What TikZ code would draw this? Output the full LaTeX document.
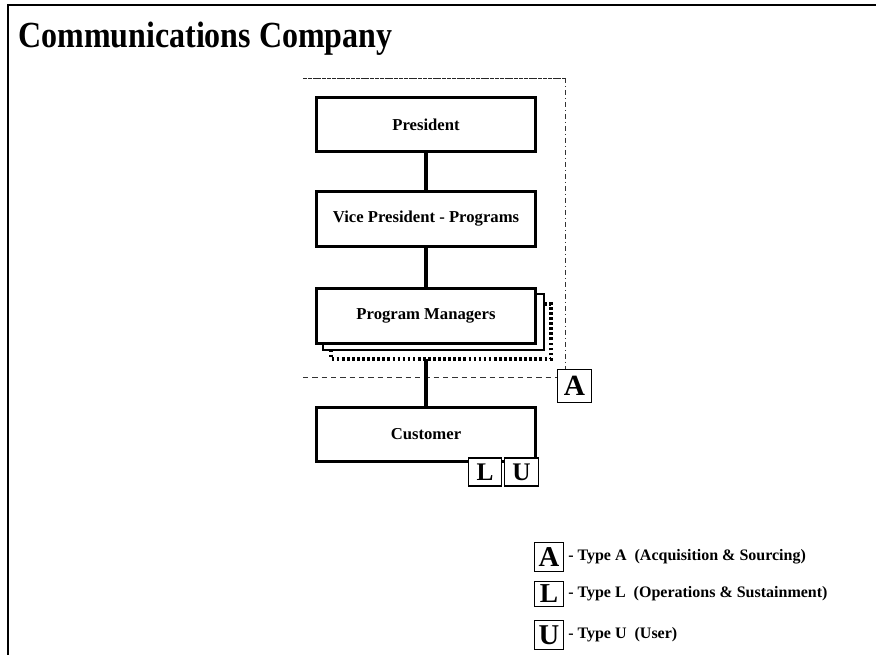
\documentclass[tikz,border=0pt]{standalone}
\usepackage{fontspec}
\setmainfont{Liberation Serif}
\begin{document}
\begin{tikzpicture}[x=0.75pt,y=-0.75pt,
  orgbox/.style={draw,line width=2.2pt,fill=white,minimum width=164pt,minimum height=41pt,
    inner sep=0pt,font=\bfseries\fontsize{12.5}{14}\selectfont},
  link/.style={line width=2.3pt},
  tagbox/.style={draw,line width=0.8pt,fill=white,inner sep=0pt,
    font=\bfseries\fontsize{22}{24}\selectfont},
  legtext/.style={anchor=west,inner sep=0pt,font=\bfseries\fontsize{12}{14}\selectfont}]
\useasboundingbox (0,0) rectangle (876,655);
% page frame and heading
\draw[line width=1.5pt] (8,655) -- (8,5) -- (876,5);
\node[anchor=base west,inner sep=0pt,yscale=1.15,transform shape,
  font=\bfseries\fontsize{24}{28}\selectfont] (title) at (18,48) {Communications Company};
% company boundary
\draw[line width=0.6pt,dash pattern=on 4pt off 3pt,black!80] (303,377) -- (557,377);
\draw[line width=0.7pt,dash pattern=on 3pt off 0.6pt,black!85] (303,78) -- (565,78);
\draw[line width=0.6pt,dash pattern=on 4pt off 2pt on 1pt off 2pt,black!80] (565,78) -- (565,370);
% stacked program manager boxes
\draw[line width=2.4pt,dash pattern=on 2pt off 1.8pt] (331,304) rectangle (551,359);
\draw[line width=1.8pt,fill=white] (323,294) rectangle (544,350);
% organisation boxes
\node[orgbox] (pres) at (426,124.5) {President};
\node[orgbox] (vp) at (426,219) {Vice President - Programs};
\node[orgbox] (pm) at (426,316) {Program Managers};
\node[orgbox] (cust) at (426,434.5) {Customer};
\coordinate (pmstack) at (426,359);
\draw[link] (pres) -- (vp);
\draw[link] (vp) -- (pm);
\draw[link] (pmstack) -- (cust);
% type tags
\node[tagbox,minimum width=26pt,minimum height=25pt] (tagA) at (574.5,386) {A};
\node[tagbox,minimum width=25pt,minimum height=21pt,font=\bfseries\fontsize{19}{21}\selectfont] (tagL) at (485,472) {L};
\node[tagbox,minimum width=25pt,minimum height=21pt,font=\bfseries\fontsize{19}{21}\selectfont] (tagU) at (521.5,472) {U};
% legend
\node[tagbox,minimum width=22pt,minimum height=22pt,font=\bfseries\fontsize{21.5}{24}\selectfont] (legA) at (549,557) {A};
\node[tagbox,minimum width=22pt,minimum height=18.5pt,font=\bfseries\fontsize{20.5}{23}\selectfont] (legL) at (549,594) {L};
\node[tagbox,minimum width=22pt,minimum height=22pt,font=\bfseries\fontsize{21.5}{24}\selectfont] (legU) at (549,635) {U};
\node[legtext] (txtA) at (568,557) {- Type A\ \ (Acquisition \& Sourcing)};
\node[legtext] (txtL) at (568,594) {- Type L\ \ (Operations \& Sustainment)};
\node[legtext] (txtU) at (568,635) {- Type U\ \ (User)};
\end{tikzpicture}
\end{document}
